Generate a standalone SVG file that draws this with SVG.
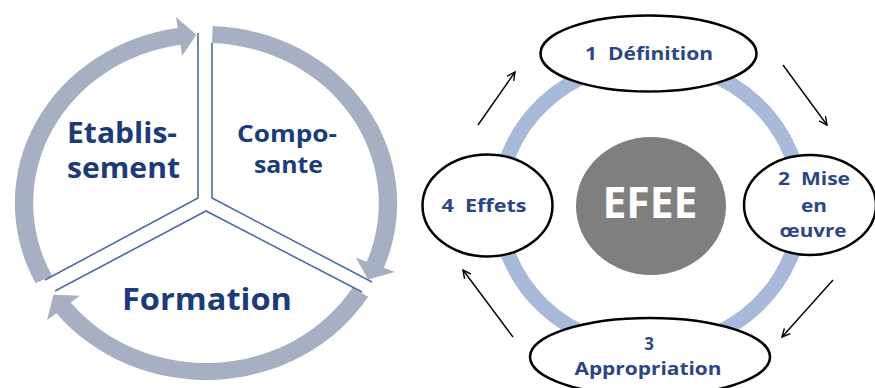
<svg xmlns="http://www.w3.org/2000/svg" width="875" height="388" viewBox="0 0 875 388">
<defs>
<style>
.ring{fill:#a7afc2}
.edge{stroke:#4f6d9c;stroke-width:1.6;fill:none}
.lt{font-family:"Open Sans","Liberation Sans",sans-serif;font-weight:700;fill:#1c3b78}
.rt{font-family:"Open Sans","Liberation Sans",sans-serif;font-weight:700;fill:#2a4784;font-size:17px;text-anchor:middle}
.node{fill:#ffffff;stroke:#000000;stroke-width:2.5}
.arr{stroke:#000000;stroke-width:1.4;fill:none;marker-end:url(#ah)}
</style>
<marker id="ah" markerUnits="userSpaceOnUse" markerWidth="12" markerHeight="12" refX="9" refY="5" orient="auto">
<path d="M1,1 L9,5 L1,9" fill="none" stroke="#000" stroke-width="1.4"/>
</marker>
</defs>
<rect width="875" height="388" fill="#ffffff"/>

<!-- Left cycle -->
<g id="left-ring" transform="translate(206,203) scale(1.08,1)">
<path class="ring" d="M -157.71 80.36 A 177 177 0 0 1 -26.16 -175.05 L -27.79 -185.93 L -8.82 -168.27 L -22.02 -147.36 L -23.65 -158.24 A 160 160 0 0 0 -142.56 72.64 Z"/>
<path class="ring" d="M 6.18 -176.89 A 177 177 0 0 1 164.68 64.87 L 174.92 68.90 L 150.13 76.50 L 138.63 54.61 L 148.86 58.64 A 160 160 0 0 0 5.58 -159.90 Z"/>
<path class="ring" d="M 150.10 93.79 A 177 177 0 0 1 -138.52 110.18 L -147.13 117.03 L -141.32 91.77 L -116.61 92.75 L -125.22 99.60 A 160 160 0 0 0 135.68 84.78 Z"/>
</g>
<g id="etablissement">
<polyline class="edge" points="198,33 198,198 45,280"/>
<text class="lt" font-size="28" x="67" y="143" textLength="110" lengthAdjust="spacingAndGlyphs">Etablis-</text>
<text class="lt" font-size="28" x="67" y="178" textLength="113" lengthAdjust="spacingAndGlyphs">sement</text>
</g>
<g id="composante">
<polyline class="edge" points="212,43 212,198 372,282"/>
<text class="lt" font-size="23" x="237" y="142" textLength="100" lengthAdjust="spacingAndGlyphs">Compo-</text>
<text class="lt" font-size="23" x="254" y="173" textLength="69" lengthAdjust="spacingAndGlyphs">sante</text>
</g>
<g id="formation">
<polyline class="edge" points="55,291 206,211 362,292"/>
<text class="lt" font-size="31" x="122" y="310" textLength="170" lengthAdjust="spacingAndGlyphs">Formation</text>
</g>

<!-- Right cycle -->
<ellipse id="right-ring" cx="650" cy="205" rx="151" ry="143" fill="none" stroke="#a9b9d9" stroke-width="15"/>
<g id="connectors">
<line class="arr" x1="478" y1="125" x2="515" y2="72"/>
<line class="arr" x1="783" y1="65" x2="827" y2="125"/>
<line class="arr" x1="833" y1="280" x2="782" y2="337"/>
<line class="arr" x1="513" y1="337" x2="463" y2="270"/>
</g>
<g id="efee">
<ellipse cx="651" cy="206" rx="75" ry="69" fill="#7f7f7f"/>
<text x="650" y="218" font-family="Open Sans, Liberation Sans, sans-serif" font-weight="700" font-size="43" fill="#ffffff" text-anchor="middle" textLength="95" lengthAdjust="spacingAndGlyphs">EFEE</text>
</g>
<g id="definition">
<ellipse class="node" cx="648.5" cy="53.5" rx="108" ry="38"/>
<text class="rt" x="649" y="60" textLength="128" lengthAdjust="spacingAndGlyphs" xml:space="preserve">1  Définition</text>
</g>
<g id="mise-en-oeuvre">
<ellipse class="node" cx="810" cy="205" rx="66" ry="50"/>
<text class="rt" x="814" y="185" textLength="72" lengthAdjust="spacingAndGlyphs" xml:space="preserve">2  Mise</text>
<text class="rt" x="814" y="212" textLength="26" lengthAdjust="spacingAndGlyphs">en</text>
<text class="rt" x="813" y="237" textLength="67" lengthAdjust="spacingAndGlyphs">œuvre</text>
</g>
<g id="appropriation">
<ellipse class="node" cx="650" cy="357" rx="120" ry="39"/>
<text class="rt" x="649" y="350">3</text>
<text class="rt" x="648" y="375" textLength="147" lengthAdjust="spacingAndGlyphs">Appropriation</text>
</g>
<g id="effets">
<ellipse class="node" cx="487.5" cy="205.5" rx="65" ry="51"/>
<text class="rt" x="484" y="212" textLength="85" lengthAdjust="spacingAndGlyphs" xml:space="preserve">4  Effets</text>
</g>
</svg>
